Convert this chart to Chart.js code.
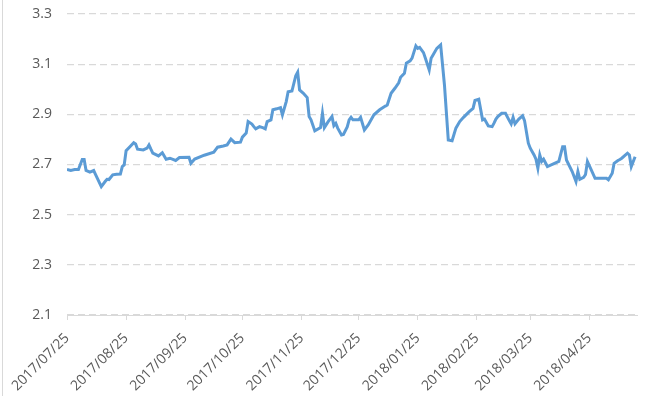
<!DOCTYPE html>
<html>
<head>
<meta charset="utf-8">
<script src="https://cdn.jsdelivr.net/npm/chart.js@4.4.1/dist/chart.umd.min.js"></script>
<style>
  html, body { margin: 0; padding: 0; background: #ffffff; }
  #wrap { position: relative; width: 657px; height: 396px; }
</style>
</head>
<body>
<div id="wrap"><canvas id="c"></canvas></div>
<script>
// ---- data ----
const dates = [
  "2017/07/25","2017/07/27","2017/07/29","2017/07/31","2017/08/02","2017/08/03","2017/08/04","2017/08/06",
  "2017/08/08","2017/08/09","2017/08/12","2017/08/14","2017/08/15","2017/08/16","2017/08/18","2017/08/20",
  "2017/08/22","2017/08/23","2017/08/24","2017/08/25","2017/08/27","2017/08/29","2017/08/30","2017/08/31",
  "2017/09/03","2017/09/05","2017/09/06","2017/09/07","2017/09/08","2017/09/11","2017/09/13","2017/09/15",
  "2017/09/17","2017/09/20","2017/09/22","2017/09/27","2017/09/28","2017/09/30","2017/10/05","2017/10/10",
  "2017/10/12","2017/10/15","2017/10/17","2017/10/19","2017/10/21","2017/10/24","2017/10/25","2017/10/27",
  "2017/10/28","2017/10/30","2017/10/31","2017/11/01","2017/11/03","2017/11/05","2017/11/06","2017/11/07",
  "2017/11/09","2017/11/10","2017/11/12","2017/11/14","2017/11/15","2017/11/17","2017/11/18","2017/11/20",
  "2017/11/22","2017/11/23","2017/11/24","2017/11/26","2017/11/28","2017/11/29","2017/11/30","2017/12/02",
  "2017/12/05","2017/12/06","2017/12/07","2017/12/09","2017/12/11","2017/12/12","2017/12/13","2017/12/14",
  "2017/12/16","2017/12/17","2017/12/19","2017/12/20","2017/12/21","2017/12/22","2017/12/25","2017/12/26",
  "2017/12/28","2017/12/30","2018/01/02","2018/01/05","2018/01/08","2018/01/09","2018/01/11","2018/01/13",
  "2018/01/15","2018/01/16","2018/01/18","2018/01/19","2018/01/21","2018/01/22","2018/01/24","2018/01/25",
  "2018/01/26","2018/01/28","2018/01/29","2018/01/31","2018/02/01","2018/02/02","2018/02/04","2018/02/06",
  "2018/02/08","2018/02/10","2018/02/12","2018/02/14","2018/02/16","2018/02/18","2018/02/21","2018/02/23",
  "2018/02/24","2018/02/26","2018/02/28","2018/03/01","2018/03/03","2018/03/05","2018/03/06","2018/03/07",
  "2018/03/08","2018/03/10","2018/03/12","2018/03/14","2018/03/15","2018/03/16","2018/03/17","2018/03/19",
  "2018/03/21","2018/03/22","2018/03/24","2018/03/25","2018/03/27","2018/03/28","2018/03/29","2018/03/30",
  "2018/03/31","2018/04/01","2018/04/03","2018/04/09","2018/04/11","2018/04/12","2018/04/13","2018/04/16",
  "2018/04/18","2018/04/19","2018/04/20","2018/04/22","2018/04/23","2018/04/24","2018/04/26","2018/04/28",
  "2018/05/04","2018/05/05","2018/05/07","2018/05/08","2018/05/10","2018/05/11","2018/05/12","2018/05/15",
  "2018/05/16","2018/05/17","2018/05/19"
];
const values = [
  2.680,2.676,2.680,2.680,2.720,2.720,2.676,2.670,
  2.676,2.660,2.612,2.632,2.641,2.640,2.659,2.661,
  2.662,2.692,2.698,2.755,2.771,2.787,2.782,2.761,
  2.758,2.765,2.778,2.761,2.745,2.734,2.747,2.721,
  2.725,2.716,2.728,2.729,2.705,2.722,2.737,2.749,
  2.769,2.774,2.778,2.801,2.787,2.789,2.809,2.825,
  2.871,2.861,2.851,2.842,2.851,2.846,2.842,2.871,
  2.878,2.918,2.922,2.927,2.898,2.951,2.990,2.993,
  3.054,3.068,2.997,2.984,2.967,2.891,2.878,2.834,
  2.847,2.904,2.847,2.871,2.891,2.855,2.864,2.845,
  2.818,2.820,2.850,2.878,2.888,2.878,2.878,2.888,
  2.838,2.858,2.898,2.918,2.933,2.937,2.984,3.004,
  3.026,3.048,3.064,3.104,3.113,3.124,3.173,3.163,
  3.167,3.146,3.124,3.077,3.124,3.137,3.163,3.177,
  3.017,2.798,2.795,2.845,2.871,2.888,2.911,2.924,
  2.955,2.960,2.878,2.881,2.854,2.851,2.865,2.881,
  2.891,2.904,2.904,2.875,2.862,2.888,2.862,2.881,
  2.894,2.875,2.785,2.765,2.738,2.721,2.685,2.738,
  2.712,2.721,2.692,2.712,2.771,2.771,2.718,2.672,
  2.632,2.672,2.641,2.649,2.660,2.712,2.679,2.645,
  2.645,2.639,2.665,2.705,2.716,2.720,2.725,2.745,
  2.738,2.692,2.731
];
const tickLabels = [
  "2017/07/25","2017/08/25","2017/09/25","2017/10/25","2017/11/25",
  "2017/12/25","2018/01/25","2018/02/25","2018/03/25","2018/04/25"
];
const axisStart = "2017/07/25";
const axisEnd = "2018/05/20";
const yTicks = [2.1, 2.3, 2.5, 2.7, 2.9, 3.1, 3.3];

// ---- helpers ----
function dayOf(s) {
  const p = s.split('/').map(Number);
  const a = axisStart.split('/').map(Number);
  return (Date.UTC(p[0], p[1] - 1, p[2]) - Date.UTC(a[0], a[1] - 1, a[2])) / 86400000;
}
const points = dates.map((d, i) => ({ x: dayOf(d), y: values[i] }));

const FONT_Y = { family: "'Open Sans', 'Liberation Sans', sans-serif", size: 14 };
const FONT_X = { family: "'Open Sans', 'Liberation Sans', sans-serif", size: 14 };
const GREY_TEXT = '#595959';
const GRID = '#d9d9d9';

const framePlugin = {
  id: 'frame',
  beforeDraw(chart) {
    const ctx = chart.ctx;
    ctx.save();
    ctx.strokeStyle = GRID;
    ctx.lineWidth = 1;
    ctx.beginPath();
    ctx.moveTo(2.5, 0);
    ctx.lineTo(2.5, chart.height);
    ctx.stroke();
    ctx.restore();
  }
};

new Chart(document.getElementById('c'), {
  type: 'line',
  data: {
    datasets: [{
      data: points,
      borderColor: '#5B9BD5',
      borderWidth: 3,
      pointRadius: 0,
      tension: 0,
      fill: false
    }]
  },
  options: {
    responsive: true,
    maintainAspectRatio: false,
    animation: false,
    devicePixelRatio: 1,
    layout: { padding: { top: 14, right: 20, left: 0, bottom: 0 } },
    plugins: { legend: { display: false }, tooltip: { enabled: false } },
    scales: {
      x: {
        type: 'linear',
        min: dayOf(axisStart),
        max: dayOf(axisEnd),
        afterBuildTicks: (s) => { s.ticks = tickLabels.map(l => ({ value: dayOf(l) })); },
        afterFit: (s) => { s.height = 81; s.paddingLeft = 0; s.paddingRight = 0; },
        ticks: {
          autoSkip: false,
          maxRotation: 45,
          minRotation: 45,
          padding: 10,
          color: GREY_TEXT,
          font: FONT_X,
          callback: (v, i) => tickLabels[i]
        },
        grid: { drawOnChartArea: false, drawTicks: true, tickLength: 5, color: GRID },
        border: { display: true, color: GRID, width: 1 }
      },
      y: {
        min: 2.1,
        max: 3.3,
        afterBuildTicks: (s) => { s.ticks = yTicks.map(v => ({ value: v })); },
        afterFit: (s) => { s.width = 67; s.paddingTop = 0; s.paddingBottom = 0; },
        ticks: {
          padding: 15,
          color: GREY_TEXT,
          font: FONT_Y,
          callback: (v) => Number(v).toFixed(1)
        },
        grid: { color: GRID, lineWidth: 1.3, drawTicks: false },
        border: { display: false, dash: [7, 4] }
      }
    }
  },
  plugins: [framePlugin]
});
</script>
</body>
</html>
